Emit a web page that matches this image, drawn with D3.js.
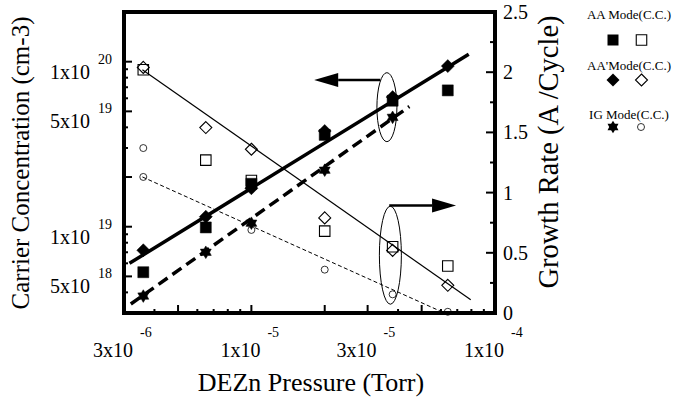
<!DOCTYPE html>
<html>
<head>
<meta charset="utf-8">
<script src="https://cdn.jsdelivr.net/npm/d3@7"></script>
<style>
body { margin: 0; background: #fff; }
svg text { font-family: "Liberation Serif", "Times New Roman", serif; fill: #000; }
</style>
</head>
<body>
<div id="chart"></div>
<script>
// DEZn pressure (Torr) of each run
var pressure = [3.6e-6, 6.5e-6, 1.0e-5, 2.0e-5, 3.8e-5, 6.4e-5];
var pressureIG = [3.6e-6, 6.5e-6, 1.0e-5, 2.0e-5, 3.8e-5];
var pressureIGgr = [3.6e-6, 3.6e-6, 1.0e-5, 2.0e-5, 3.8e-5, 6.4e-5];

// carrier concentration (cm-3), left axis
var aaCC  = [5.3e18, 9.9e18, 1.82e19, 3.6e19, 5.8e19, 6.7e19];
var aa2CC = [7.2e18, 1.15e19, 1.71e19, 3.8e19, 6.1e19, 9.4e19];
var igCC  = [3.8e18, 7.0e18, 1.05e19, 2.2e19, 4.6e19];

// growth rate (A/cycle), right axis
var aaGR  = [2.02, 1.27, 1.10, 0.68, 0.55, 0.39];
var aa2GR = [2.04, 1.54, 1.36, 0.79, 0.52, 0.23];
var igGR  = [1.37, 1.13, 0.69, 0.36, 0.155, 0.01];

// fitted lines (start, end)
var fitCC   = [[3.16e-6, 6.0e18], [7.8e-5, 1.11e20]];
var fitIgCC = [[3.2e-6, 3.4e18], [4.45e-5, 5.35e19]];
var fitGR   = [[3.57e-6, 2.02], [7.95e-5, 0.11]];
var fitIgGR = [[3.57e-6, 1.13], [6.2e-5, 0]];

// tick labels
var xLabelVals = [3e-6, 1e-5, 3e-5, 1e-4];
var xLabelMant = ["3x10", "1x10", "3x10", "1x10"];
var xLabelExp  = ["-6", "-5", "-5", "-4"];
var yLabelVals = [1e20, 5e19, 1e19, 5e18];
var yLabelMant = ["1x10", "5x10", "1x10", "5x10"];
var yLabelExp  = ["20", "19", "19", "18"];
var y2Ticks = [0, 0.5, 1, 1.5, 2, 2.5];
var y2Minor = [0.25, 0.75, 1.25, 1.75, 2.25];

var legendNames = ["AA Mode(C.C.)", "AA'Mode(C.C.)", "IG Mode(C.C.)"];

var svg = d3.select("#chart").append("svg")
    .attr("width", 673)
    .attr("height", 398);

var pLeft = 124, pRight = 495, pTop = 12, pBottom = 313;

var x = d3.scaleLog().domain([3e-6, 1e-4]).range([pLeft, pRight]);
var yL = d3.scaleLog().domain([3e18, 2e20]).range([pBottom, pTop]);
var yR = d3.scaleLinear().domain([0, 2.5]).range([pBottom, pTop]);

// custom symbols
var hexStar = {
    draw: function(ctx, size) {
        var r = Math.sqrt(size) / 2, ri = r * 0.6;
        for (var i = 0; i < 12; i++) {
            var a = Math.PI / 6 * i - Math.PI / 2;
            var rr = i % 2 ? ri : r;
            if (i == 0) ctx.moveTo(rr * Math.cos(a), rr * Math.sin(a));
            else ctx.lineTo(rr * Math.cos(a), rr * Math.sin(a));
        }
        ctx.closePath();
    }
};
var diamond = {
    draw: function(ctx, size) {
        var r = Math.sqrt(size) / 2;
        ctx.moveTo(0, -r); ctx.lineTo(r, 0); ctx.lineTo(0, r); ctx.lineTo(-r, 0);
        ctx.closePath();
    }
};

var sqFilled = d3.symbol().type(d3.symbolSquare).size(121);
var sqOpen = d3.symbol().type(d3.symbolSquare).size(110);
var diaFilled = d3.symbol().type(diamond).size(169);
var diaOpen = d3.symbol().type(diamond).size(144);
var star = d3.symbol().type(hexStar).size(160);

/* ticks */
var ticks = svg.append("g").attr("stroke", "#000").attr("stroke-width", 2);

x.ticks().forEach(function(t) {
    if (t <= 3e-6 || t >= 1e-4) return;
    var m = Math.round(t / Math.pow(10, Math.floor(Math.log10(t) + 1e-9)));
    var len = (m == 1 || m == 2 || m == 3 || m == 5) ? 8 : 4;
    ticks.append("line")
        .attr("x1", x(t)).attr("x2", x(t))
        .attr("y1", pBottom).attr("y2", pBottom - len);
});

yL.ticks().forEach(function(t) {
    if (t <= 3e18 || t >= 2e20) return;
    var m = Math.round(t / Math.pow(10, Math.floor(Math.log10(t) + 1e-9)));
    var len = (m == 1 || m == 2 || m == 5) ? 8 : 4;
    ticks.append("line")
        .attr("x1", pLeft).attr("x2", pLeft + len)
        .attr("y1", yL(t)).attr("y2", yL(t));
});

y2Ticks.concat(y2Minor).forEach(function(t) {
    if (t == 0 || t == 2.5) return;
    var len = y2Minor.indexOf(t) >= 0 ? 5 : 9;
    ticks.append("line")
        .attr("x1", pRight).attr("x2", pRight - len)
        .attr("y1", yR(t)).attr("y2", yR(t));
});

/* fit lines */
var lineL = d3.line().x(function(d) { return x(d[0]); }).y(function(d) { return yL(d[1]); });
var lineR = d3.line().x(function(d) { return x(d[0]); }).y(function(d) { return yR(d[1]); });

svg.append("path").attr("d", lineL(fitCC))
    .attr("fill", "none").attr("stroke", "#000").attr("stroke-width", 3.5);
svg.append("path").attr("d", lineL(fitIgCC))
    .attr("fill", "none").attr("stroke", "#000").attr("stroke-width", 3.5)
    .attr("stroke-dasharray", "11,6");
svg.append("path").attr("d", lineR(fitGR))
    .attr("fill", "none").attr("stroke", "#000").attr("stroke-width", 1.2);
svg.append("path").attr("d", lineR(fitIgGR))
    .attr("fill", "none").attr("stroke", "#000").attr("stroke-width", 1)
    .attr("stroke-dasharray", "4,2.5");

/* markers */
function points(xs, ys, yScale, sym, filled) {
    svg.append("g").selectAll("path")
        .data(ys)
        .join("path")
        .attr("transform", function(d, i) { return "translate(" + x(xs[i]) + "," + yScale(d) + ")"; })
        .attr("d", sym)
        .attr("fill", filled ? "#000" : "none")
        .attr("stroke", "#000")
        .attr("stroke-width", filled ? 0.5 : 1.1);
}

points(pressure, aaGR, yR, sqOpen, false);
points(pressure, aa2GR, yR, diaOpen, false);
svg.append("g").selectAll("circle")
    .data(igGR)
    .join("circle")
    .attr("cx", function(d, i) { return x(pressureIGgr[i]); })
    .attr("cy", function(d) { return yR(d); })
    .attr("r", 3.5)
    .attr("fill", "none").attr("stroke", "#000").attr("stroke-width", 0.8);

points(pressure, aaCC, yL, sqFilled, true);
points(pressure, aa2CC, yL, diaFilled, true);
points(pressureIG, igCC, yL, star, true);

/* ellipses and arrows */
var annot = svg.append("g").attr("stroke", "#000").attr("fill", "none");
annot.append("ellipse")
    .attr("cx", x(3.6e-5)).attr("cy", yL(5.3e19))
    .attr("rx", 10).attr("ry", 34.5).attr("stroke-width", 1);
annot.append("ellipse")
    .attr("cx", x(3.72e-5)).attr("cy", yR(0.48))
    .attr("rx", 11).attr("ry", 49).attr("stroke-width", 1);

function arrow(x0, x1, yy) {
    var dir = x1 > x0 ? 1 : -1, head = 24;
    annot.append("line")
        .attr("x1", x0).attr("x2", x1 - dir * head)
        .attr("y1", yy).attr("y2", yy)
        .attr("stroke-width", 2.5);
    annot.append("path")
        .attr("d", "M" + x1 + "," + yy + "L" + (x1 - dir * head) + "," + (yy - 7) +
            "L" + (x1 - dir * head) + "," + (yy + 7) + "Z")
        .attr("fill", "#000").attr("stroke", "none");
}
arrow(x(3.38e-5), x(1.81e-5), yL(7.75e19));
arrow(x(3.68e-5), x(6.92e-5), yR(0.893));

/* frame */
svg.append("rect")
    .attr("x", pLeft).attr("y", pTop)
    .attr("width", pRight - pLeft).attr("height", pBottom - pTop)
    .attr("fill", "none").attr("stroke", "#000").attr("stroke-width", 4);

/* tick labels */
xLabelVals.forEach(function(v, i) {
    svg.append("text").attr("x", x(v) + 9).attr("y", 357)
        .attr("text-anchor", "end").style("font-size", "20px").text(xLabelMant[i]);
    svg.append("text").attr("x", x(v) + 16).attr("y", 337)
        .style("font-size", "14px").text(xLabelExp[i]);
});

yLabelVals.forEach(function(v, i) {
    svg.append("text").attr("x", 90).attr("y", yL(v) + 17)
        .attr("text-anchor", "end").style("font-size", "20px").text(yLabelMant[i]);
    svg.append("text").attr("x", 98).attr("y", yL(v) + 2)
        .style("font-size", "14px").text(yLabelExp[i]);
});

y2Ticks.forEach(function(t) {
    svg.append("text").attr("x", 503).attr("y", yR(t) + 7)
        .style("font-size", "20px").text(t);
});

/* axis titles */
svg.append("text")
    .attr("transform", "translate(29,163) rotate(-90)")
    .attr("text-anchor", "middle").style("font-size", "25px")
    .text("Carrier Concentration (cm-3)");
svg.append("text")
    .attr("transform", "translate(558,152) rotate(-90)")
    .attr("text-anchor", "middle").style("font-size", "28.5px")
    .text("Growth Rate (A /Cycle)");
svg.append("text")
    .attr("x", 311).attr("y", 391)
    .attr("text-anchor", "middle").style("font-size", "26px")
    .text("DEZn Pressure (Torr)");

/* legend */
var legend = svg.append("g").attr("class", "legend");
var legY = [19, 70, 119];
var legSymY = [40, 80, 127];
legendNames.forEach(function(n, i) {
    legend.append("text").attr("x", 629).attr("y", legY[i])
        .attr("text-anchor", "middle").style("font-size", "13px").text(n);
});
var legSyms = [[sqFilled, sqOpen], [diaFilled, diaOpen], [star, null]];
legSyms.forEach(function(s, i) {
    var yy = legSymY[i];
    legend.append("path").attr("transform", "translate(613," + yy + ")")
        .attr("d", s[0]).attr("fill", "#000");
    if (s[1]) {
        legend.append("path").attr("transform", "translate(641.5," + yy + ")")
            .attr("d", s[1]).attr("fill", "none").attr("stroke", "#000").attr("stroke-width", 1.1);
    } else {
        legend.append("circle").attr("cx", 641).attr("cy", yy).attr("r", 3.5)
            .attr("fill", "none").attr("stroke", "#000").attr("stroke-width", 0.8);
    }
});
</script>
</body>
</html>
